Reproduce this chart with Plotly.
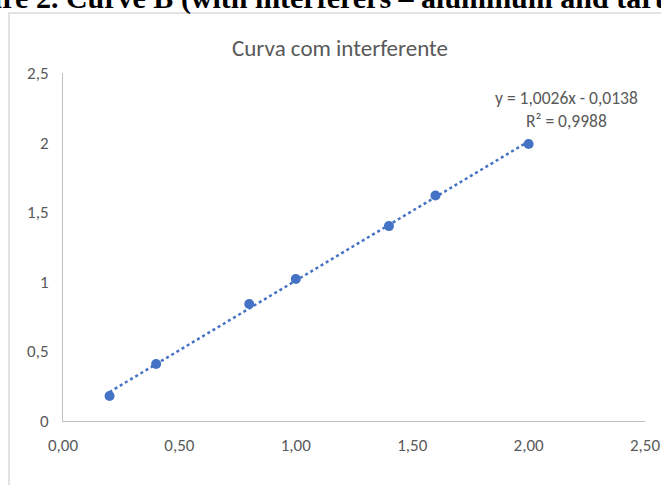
import numpy as np
import plotly.graph_objects as go

# Data
x_vals = [0.2, 0.4, 0.8, 1.0, 1.4, 1.6, 2.0]
y_vals = [0.18, 0.41, 0.84, 1.02, 1.40, 1.62, 1.99]
x_tick_vals = [0, 0.5, 1.0, 1.5, 2.0, 2.5]
x_tick_text = ["0,00", "0,50", "1,00", "1,50", "2,00", "2,50"]
y_tick_vals = [0, 0.5, 1.0, 1.5, 2.0, 2.5]
y_tick_text = ["0", "0,5", "1", "1,5", "2", "2,5"]
title_text = "Curva com interferente"
equation_text = "y = 1,0026x - 0,0138<br>R² = 0,9988"
caption_text = "Figure 2. Curve B (with interferers – aluminum and tartrate)"

W, H = 661, 485
ML, MR, MT, MB = 63, 16, 73, 64
PW, PH = W - ML - MR, H - MT - MB

def px(xp):
    return (xp - ML) / PW

def py(yp):
    return (H - MB - yp) / PH

BLUE = "#4472C4"
GRAY = "#595959"
FONT = "Carlito, Lato, sans-serif"

# trendline (linear fit over the data range)
coef = np.polyfit(x_vals, y_vals, 1)
tx = np.array([min(x_vals), max(x_vals)])
ty = np.polyval(coef, tx)

fig = go.Figure()
fig.add_trace(go.Scatter(x=tx, y=ty, mode="lines",
                         line=dict(color=BLUE, width=2.5, dash="dot"),
                         hoverinfo="skip", showlegend=False))
fig.add_trace(go.Scatter(x=x_vals, y=y_vals, mode="markers",
                         marker=dict(color=BLUE, size=10),
                         showlegend=False))

fig.update_layout(
    width=W, height=H,
    margin=dict(l=ML, r=MR, t=MT, b=MB),
    paper_bgcolor="white", plot_bgcolor="white",
    font=dict(family=FONT, color=GRAY, size=17),
    # cropped caption line at the very top of the picture
    title=dict(text="<b>" + caption_text + "</b>",
               xref="container", yref="container",
               x=335 / W, xanchor="center",
               y=1 - 8 / H, yanchor="bottom",
               font=dict(size=30, color="black", family="Liberation Serif, serif")),
    xaxis=dict(range=[0, 2.5], tickvals=x_tick_vals, ticktext=x_tick_text,
               showgrid=False, zeroline=False, showline=True, automargin=False,
               linecolor="#bfbfbf", linewidth=1, ticks="",
               ticklabelstandoff=9, tickfont=dict(size=17, color=GRAY)),
    yaxis=dict(range=[0, 2.5], tickvals=y_tick_vals, ticktext=y_tick_text,
               showgrid=False, zeroline=False, showline=True, automargin=False,
               linecolor="#bfbfbf", linewidth=1, ticks="",
               ticklabelstandoff=10, tickfont=dict(size=17, color=GRAY)),
    shapes=[dict(type="rect", xref="paper", yref="paper",
                 x0=px(9), x1=px(W + 20), y0=py(H + 20), y1=py(13),
                 line=dict(color="#d9d9d9", width=1.5), fillcolor="rgba(0,0,0,0)",
                 layer="below")],
    annotations=[
        dict(text=title_text, xref="paper", yref="paper", x=px(340), y=py(48),
             xanchor="center", yanchor="middle", showarrow=False,
             font=dict(size=23, color=GRAY, family=FONT)),
        dict(text=equation_text, xref="paper", yref="paper", x=px(566), y=py(109),
             xanchor="center", yanchor="middle", showarrow=False, align="center",
             font=dict(size=17.5, color=GRAY, family=FONT)),
    ],
)

fig.write_html("out.html", config={"displayModeBar": False},
               post_script="document.body.style.margin='0';")
